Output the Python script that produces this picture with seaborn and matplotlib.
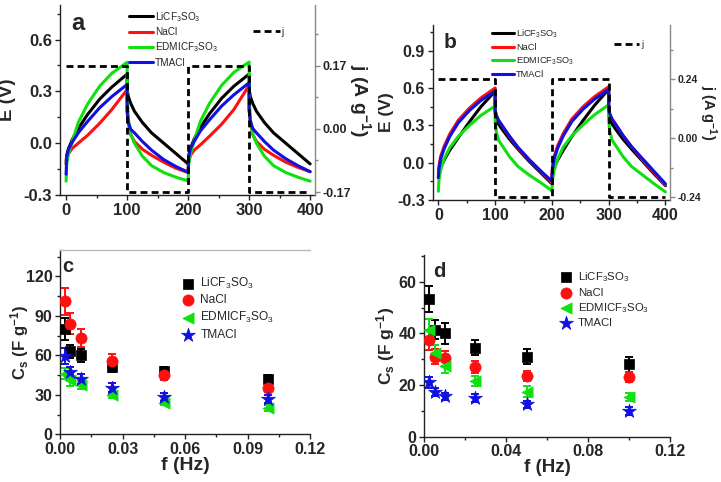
import numpy as np
import pandas as pd
import seaborn as sns
import matplotlib.pyplot as plt
from matplotlib.ticker import MultipleLocator, FormatStrFormatter

# --- galvanostatic charge/discharge data ---
t = [0, 1, 4, 10, 20, 35, 55, 75, 100,
     100, 102, 106, 112, 125, 140, 160, 180, 200,
     200, 201, 204, 210, 220, 235, 255, 275, 300,
     300, 302, 306, 312, 325, 340, 360, 380, 400]

names = ["LiCF$_3$SO$_3$", "NaCl", "EDMICF$_3$SO$_3$", "TMACl"]
colors = ["#000000", "#ff1010", "#10e010", "#1010e0"]

# panel a
a_li = [-0.12, -0.07, -0.03, 0.02, 0.085, 0.165, 0.255, 0.325, 0.40,
        0.31, 0.27, 0.23, 0.185, 0.12, 0.06, 0.0, -0.06, -0.12,
        -0.12, -0.07, -0.03, 0.025, 0.09, 0.17, 0.26, 0.33, 0.40,
        0.31, 0.27, 0.23, 0.185, 0.12, 0.06, 0.0, -0.06, -0.12]
a_na = [-0.10, -0.08, -0.06, -0.03, 0.0, 0.045, 0.115, 0.195, 0.31,
        0.20, 0.12, 0.05, 0.01, -0.035, -0.07, -0.11, -0.145, -0.17,
        -0.15, -0.10, -0.07, -0.04, -0.01, 0.04, 0.11, 0.195, 0.335,
        0.20, 0.12, 0.05, 0.01, -0.035, -0.07, -0.11, -0.14, -0.165]
a_ed = [-0.22, -0.12, -0.06, 0.01, 0.12, 0.225, 0.33, 0.405, 0.468,
        0.28, 0.14, 0.05, 0.0, -0.075, -0.13, -0.17, -0.197, -0.218,
        -0.22, -0.12, -0.06, 0.015, 0.125, 0.23, 0.335, 0.41, 0.47,
        0.28, 0.14, 0.05, 0.0, -0.075, -0.13, -0.17, -0.197, -0.22]
a_tm = [-0.18, -0.08, -0.035, 0.005, 0.06, 0.125, 0.205, 0.27, 0.34,
        0.18, 0.12, 0.08, 0.06, 0.01, -0.04, -0.095, -0.135, -0.168,
        -0.17, -0.08, -0.03, 0.01, 0.07, 0.135, 0.215, 0.28, 0.35,
        0.19, 0.13, 0.085, 0.06, 0.01, -0.04, -0.09, -0.13, -0.165]

# panel b
b_li = [-0.12, -0.08, -0.04, 0.02, 0.10, 0.20, 0.33, 0.45, 0.575,
        0.40, 0.35, 0.31, 0.27, 0.19, 0.11, 0.01, -0.08, -0.17,
        -0.12, -0.08, -0.04, 0.02, 0.10, 0.21, 0.34, 0.46, 0.59,
        0.40, 0.35, 0.31, 0.27, 0.19, 0.11, 0.01, -0.09, -0.185]
b_na = [-0.10, -0.03, 0.05, 0.13, 0.23, 0.34, 0.44, 0.52, 0.60,
        0.42, 0.38, 0.34, 0.30, 0.21, 0.12, 0.02, -0.07, -0.16,
        -0.10, -0.03, 0.05, 0.135, 0.235, 0.35, 0.45, 0.53, 0.61,
        0.43, 0.39, 0.35, 0.31, 0.22, 0.13, 0.02, -0.08, -0.18]
b_ed = [-0.23, -0.14, -0.06, 0.03, 0.12, 0.21, 0.30, 0.38, 0.455,
        0.33, 0.25, 0.18, 0.14, 0.05, -0.03, -0.10, -0.16, -0.225,
        -0.23, -0.14, -0.06, 0.03, 0.125, 0.215, 0.305, 0.385, 0.465,
        0.34, 0.25, 0.18, 0.14, 0.05, -0.03, -0.10, -0.17, -0.235]
b_tm = [-0.12, -0.05, 0.03, 0.11, 0.21, 0.32, 0.42, 0.50, 0.575,
        0.42, 0.38, 0.34, 0.30, 0.215, 0.125, 0.025, -0.065, -0.15,
        -0.12, -0.05, 0.03, 0.115, 0.215, 0.33, 0.43, 0.51, 0.59,
        0.43, 0.39, 0.35, 0.31, 0.22, 0.13, 0.03, -0.07, -0.17]

# applied current (dashed)
j_t = [0, 100, 100, 200, 200, 300, 300, 400]
j_a = [0.17, 0.17, -0.17, -0.17, 0.17, 0.17, -0.17, -0.17]
j_b = [0.24, 0.24, -0.24, -0.24, 0.24, 0.24, -0.24, -0.24]

# --- specific capacitance vs frequency ---
f = [0.0025, 0.005, 0.01, 0.025, 0.05, 0.1]
c_li = [80, 63, 60, 51, 48, 42]
c_na = [101, 84, 73, 56, 45, 35]
c_ed = [46, 41, 37.5, 29.5, 24, 20]
c_tm = [59.5, 47.5, 42, 35.5, 28, 27]
c_li_err = [8, 5, 5, 4, 3, 3]
c_na_err = [10, 8, 7, 5, 4, 3]
c_ed_err = [4, 4, 3, 2, 2, 2]
c_tm_err = [6, 4, 4, 3.5, 3, 3]

d_li = [53.5, 41.5, 40, 34.5, 31, 28]
d_na = [37.5, 31, 30.3, 27, 23.5, 23]
d_ed = [41.5, 32.5, 27.5, 21.5, 17.5, 15.5]
d_tm = [21, 17.3, 15.6, 15, 12.5, 10]
d_li_err = [5, 3.8, 4, 3, 3, 3]
d_na_err = [4, 3, 3, 2.5, 2, 2]
d_ed_err = [4, 3, 3, 2, 2, 1.5]
d_tm_err = [2, 1.5, 1.5, 1.5, 1.5, 1.5]

markers = ["s", "o", "<", "*"]
msizes = [55, 65, 65, 110]

sns.set_style("ticks")
plt.rcParams["font.family"] = ["Liberation Sans", "DejaVu Sans"]
plt.rcParams["font.weight"] = "bold"
plt.rcParams["axes.labelweight"] = "bold"
plt.rcParams["mathtext.default"] = "regular"
plt.rcParams["axes.unicode_minus"] = False
plt.rcParams["xtick.direction"] = "out"
plt.rcParams["ytick.direction"] = "out"

fig = plt.figure(figsize=(7.21, 4.82), dpi=100)
W, H = 721, 482


def box(l, t_, r, b):
    return [l / W, 1 - b / H, (r - l) / W, (b - t_) / H]


def style_axes(ax, fs):
    ax.spines["top"].set_visible(False)
    ax.spines["right"].set_visible(False)
    for s in ["left", "bottom"]:
        ax.spines[s].set_linewidth(1.0)
        ax.spines[s].set_color("#222222")
    ax.tick_params(which="major", length=3.5, width=1, labelsize=fs,
                   color="#222222", pad=2)
    ax.tick_params(which="minor", length=2, width=1, color="#222222")


def gcd_panel(rect, series, jvals, ylim, jlim, jstep, fs, fsr, fsl, fsj,
              letter, let_fs, leg_fs, leg_anchor, j_anchor, ypad):
    ax = fig.add_axes(rect)
    rows = []
    for name, vals in zip(names, series):
        rows.append(pd.DataFrame({"t": t, "E": vals, "el": name}))
    df = pd.concat(rows, ignore_index=True)
    sns.lineplot(data=df, x="t", y="E", hue="el", palette=colors, estimator=None,
                 sort=False, linewidth=2.2, ax=ax)
    ax.set_xlim(-10, 408)
    ax.set_ylim(*ylim)
    ax.xaxis.set_major_locator(MultipleLocator(100))
    ax.xaxis.set_minor_locator(MultipleLocator(50))
    ax.yaxis.set_major_locator(MultipleLocator(0.3))
    ax.yaxis.set_minor_locator(MultipleLocator(0.15))
    ax.yaxis.set_major_formatter(FormatStrFormatter("%.1f"))
    style_axes(ax, fs)
    ax.set_xlabel("")
    ax.set_ylabel("E (V)", fontsize=fsl, labelpad=ypad)
    ax.text(0.045, 0.9, letter, transform=ax.transAxes, fontsize=let_fs,
            fontweight="bold", va="center")
    h, l = ax.get_legend_handles_labels()
    ax.legend(h, l, loc="upper left", bbox_to_anchor=leg_anchor, frameon=False,
              prop={"weight": "normal", "size": leg_fs}, handlelength=2.4,
              handletextpad=0.2, labelspacing=0.35, borderpad=0, borderaxespad=0)

    ax2 = ax.twinx()
    sns.lineplot(x=j_t, y=jvals, estimator=None, sort=False, color="k",
                 linewidth=2, linestyle=(0, (2.5, 1.5)), label="j", ax=ax2)
    ax2.set_ylim(*jlim)
    ax2.yaxis.set_major_locator(MultipleLocator(jstep))
    ax2.yaxis.set_minor_locator(MultipleLocator(jstep / 2))
    ax2.yaxis.set_major_formatter(FormatStrFormatter("%.2f"))
    for s in ["top", "left", "bottom"]:
        ax2.spines[s].set_visible(False)
    ax2.spines["right"].set_linewidth(1.0)
    ax2.spines["right"].set_color("#888888")
    ax2.tick_params(which="major", length=3.5, width=1, labelsize=fsr,
                    color="#888888", pad=2)
    ax2.tick_params(which="minor", length=2, width=1, color="#888888")
    ax2.set_ylabel("j (A g$^{-1}$)", rotation=270, fontsize=fsj, labelpad=fsj + 2)
    ax2.legend(loc="upper left", bbox_to_anchor=j_anchor, frameon=False,
               prop={"weight": "normal", "size": leg_fs}, handlelength=2.7,
               handletextpad=0.2, borderpad=0, borderaxespad=0)
    return ax


def cs_panel(rect, series, errs, ylim, ystep, xstep, fs, fsx, fsy, letter,
             leg_fs, leg_anchor, topline, let_x, ypad):
    ax = fig.add_axes(rect)
    for name, vals, err, c, m, s in zip(names, series, errs, colors, markers, msizes):
        ax.errorbar(f, vals, yerr=err, fmt="none", ecolor=c, elinewidth=1.4,
                    capsize=3, capthick=1.4, zorder=2)
        sns.scatterplot(x=f, y=vals, marker=m, color=c, s=s, edgecolor=c,
                        linewidth=0.5, label=name, ax=ax, zorder=3)
    ax.set_xlim(0, 0.12)
    ax.set_ylim(*ylim)
    ax.xaxis.set_major_locator(MultipleLocator(xstep))
    ax.xaxis.set_minor_locator(MultipleLocator(xstep / 2))
    ax.xaxis.set_major_formatter(FormatStrFormatter("%.2f"))
    ax.yaxis.set_major_locator(MultipleLocator(ystep))
    ax.yaxis.set_minor_locator(MultipleLocator(ystep / 2))
    style_axes(ax, fs)
    if topline:
        ax.spines["top"].set_visible(True)
        ax.spines["top"].set_color("#bbbbbb")
        ax.spines["top"].set_linewidth(1.0)
    ax.set_xlabel("f (Hz)", fontsize=fsx, labelpad=0)
    ax.set_ylabel("C$_s$ (F g$^{-1}$)", fontsize=fsy, labelpad=ypad)
    ax.text(let_x, 0.91, letter, transform=ax.transAxes, fontsize=14.5,
            fontweight="bold", va="center")
    ax.legend(loc="upper left", bbox_to_anchor=leg_anchor, frameon=False,
              prop={"weight": "normal", "size": leg_fs}, handlelength=1.0,
              handletextpad=0.5, labelspacing=0.3, borderpad=0, borderaxespad=0)
    return ax


gcd_panel(box(60, 5, 315, 195), [a_li, a_na, a_ed, a_tm], j_a,
          (-0.3, 0.8), (-0.178, 0.334), 0.17, 12, 9, 13.5, 14,
          "a", 17, 7.2, (0.27, 0.975), (0.755, 0.885), 6)
gcd_panel(box(432.7, 25, 670, 200), [b_li, b_na, b_ed, b_tm], j_b,
          (-0.3, 1.106), (-0.251, 0.461), 0.24, 11.5, 7.5, 12.5, 10.5,
          "b", 15, 6.7, (0.25, 0.985), (0.765, 0.915), 2.5)

cs_panel(box(60, 250, 310, 434.3), [c_li, c_na, c_ed, c_tm],
         [c_li_err, c_na_err, c_ed_err, c_tm_err], (0, 140), 30, 0.03, 11.5,
         14, 12, "c", 8.6, (0.49, 0.86), True, 0.01, -4)
cs_panel(box(424.3, 255, 670, 436.7), [d_li, d_na, d_ed, d_tm],
         [d_li_err, d_na_err, d_ed_err, d_tm_err], (0, 70.4), 20, 0.04, 11.5,
         13.5, 12.5, "d", 8.2, (0.555, 0.915), False, 0.035, 1)

fig.savefig("out.png", dpi=100, facecolor="white")
